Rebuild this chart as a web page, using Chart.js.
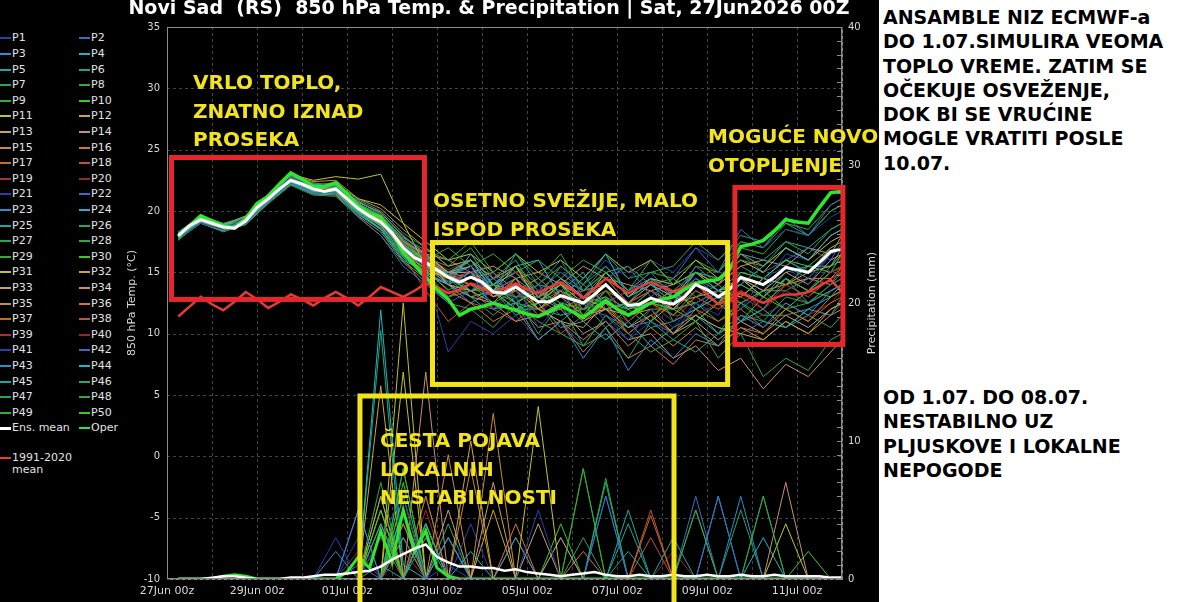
<!DOCTYPE html>
<html>
<head>
<meta charset="utf-8">
<script src="https://cdn.jsdelivr.net/npm/chart.js@4.4.1/dist/chart.umd.min.js"></script>
<style>
    html, body { margin: 0; padding: 0; background: #000; width: 1200px; height: 602px; overflow: hidden; }
    #wrap { position: relative; width: 1200px; height: 602px; }
    #chart { position: absolute; left: 100px; top: 0; }
    #legend { position: absolute; left: 0; top: 0; width: 130px; height: 602px; font: 11px "DejaVu Sans"; color: #e2e2e2; }
    .item { position: absolute; height: 14px; line-height: 14px; white-space: nowrap; }
    .item i { position: absolute; left: 0; top: 6px; width: 11px; height: 2px; }
    .item span { position: absolute; left: 12px; top: 0; }
    .note { position: absolute; color: #f2e41c; font: bold 20px "DejaVu Sans"; line-height: 28.5px; white-space: pre; }
    #side { position: absolute; left: 879px; top: 0; width: 321px; height: 602px; background: #fff; }
    .side-text { position: absolute; left: 4px; font: bold 19px "DejaVu Sans"; line-height: 24.3px; color: #000; white-space: pre; }
</style>
</head>
<body>
<div id="wrap">
    <div id="legend"></div>
    <canvas id="chart" width="778" height="602"></canvas>
    <div class="note" style="left:193px; top:68px;">VRLO TOPLO,
ZNATNO IZNAD
PROSEKA</div>
    <div class="note" style="left:433px; top:186px;">OSETNO SVEŽIJE, MALO
ISPOD PROSEKA</div>
    <div class="note" style="left:708px; top:122px;">MOGUĆE NOVO
OTOPLJENJE</div>
    <div class="note" style="left:380px; top:426px;">ČESTA POJAVA
LOKALNIH
NESTABILNOSTI</div>
    <div id="side">
        <div class="side-text" style="top:5px;">ANSAMBLE NIZ ECMWF-a
DO 1.07.SIMULIRA VEOMA
TOPLO VREME. ZATIM SE
OČEKUJE OSVEŽENJE,
DOK BI SE VRUĆINE
MOGLE VRATITI POSLE
10.07.</div>
        <div class="side-text" style="top:385px;">OD 1.07. DO 08.07.
NESTABILNO UZ
PLJUSKOVE I LOKALNE
NEPOGODE</div>
    </div>
</div>
<script>
// ---- time axes (hours after 27Jun 00z) ----
const hours6 = [6,12,18,24,30,36,42,48,54,60,66,72,78,84,90,96,102,108,114,120,
    126,132,138,144,150,156,162,168,174,180,186,192,198,204,210,216,222,228,234,240,
    246,252,258,264,270,276,282,288,294,300,306,312,318,324,330,336,342,348,354,360];
const memberHours = [6,18,30,42,54,66,78,90,102,114,126,138,150,162,174,186,198,210,222,234,
    246,258,270,282,294,306,318,330,342,354,360];
const xTickLabels = ['27Jun 00z','29Jun 00z','01Jul 00z','03Jul 00z','05Jul 00z','07Jul 00z','09Jul 00z','11Jul 00z'];

// ---- main lines (6-hourly) ----
const meanTemp = [18.0,18.8,19.3,19.0,18.7,18.6,19.2,20.3,21.0,21.8,
    22.5,22.2,21.8,21.6,21.8,21.0,20.2,19.6,19.1,18.2,
    17.0,16.2,15.8,15.2,14.6,14.2,14.6,14.2,13.4,13.3,
    13.8,13.2,12.6,12.6,13.1,12.8,12.5,13.2,14.0,13.1,
    12.3,12.4,12.9,12.6,12.4,13.0,14.0,13.6,13.0,13.6,
    14.6,14.3,14.0,14.6,15.4,15.2,15.0,15.8,16.7,16.9];
const operTemp = [17.9,18.8,19.6,19.2,18.8,18.6,19.4,20.6,21.2,22.2,
    23.1,22.6,22.0,22.0,22.3,21.4,20.4,19.8,19.5,18.2,
    16.6,15.6,14.6,13.6,12.8,11.5,12.0,12.2,12.5,12.2,
    11.9,11.6,11.4,11.8,12.3,11.8,11.3,12.0,12.7,12.0,
    11.5,12.0,12.5,12.8,13.0,13.6,14.1,14.3,14.4,15.2,
    17.1,17.3,17.6,18.4,19.3,19.1,19.0,20.3,21.5,21.6];
const climTemp = [11.4,12.2,13.0,12.4,11.9,12.6,13.4,12.8,12.1,12.6,
    13.2,12.8,12.3,12.9,13.4,12.9,12.3,13.0,13.8,13.4,
    13.0,13.5,14.1,13.8,13.3,13.6,14.1,13.7,13.3,13.7,
    14.1,13.6,13.3,13.8,14.2,13.6,12.9,13.7,14.5,13.9,
    13.3,13.8,14.2,13.8,13.4,13.8,14.2,13.2,12.4,12.8,
    13.3,12.9,12.5,12.9,13.2,13.2,13.4,13.9,14.4,13.4];
const meanRain = [0,0,0,0.1,0.2,0.2,0.1,0,0,0,
    0.1,0.1,0.2,0.3,0.3,0.4,0.5,0.6,0.9,1.4,
    1.8,2.2,2.5,1.6,1.2,0.9,0.9,0.8,0.8,0.6,
    0.7,0.5,0.4,0.3,0.2,0.3,0.4,0.5,0.3,0.2,
    0.2,0.3,0.2,0.2,0.3,0.2,0.2,0.3,0.2,0.2,
    0.3,0.2,0.2,0.3,0.2,0.2,0.2,0.2,0.1,0.1];
const operRain = [0,0,0,0,0.2,0.3,0.2,0,0,0,
    0,0,0,0,0,0.5,1.6,0.8,3.5,1.2,
    5.0,2.0,3.5,0.8,0.2,0,0,0,0,0,
    0,0,0,0,0,0,0,0,0,0,
    0,0,0,0,0,0,0,0,0,0,
    0,0,0,0,0,0,0,0,0,0];

// ---- ensemble members, 850 hPa temperature (12-hourly) ----
const t01 = [17.8,19.0,18.5,19.5,21.2,22.8,22.0,22.3,20.5,19.0,16.5, 14.8,13.0,15.5,12.0,14.0,10.5,12.5,13.0,11.0,9.5,12.0,10.5,12.5,13.5,12.0,14.5,15.5,14.0,16.5,17.0];
const t02 = [18.2,19.5,18.8,19.0,20.8,22.3,21.5,21.5,19.5,18.0,15.5, 14.0,12.5,13.5,15.0,12.5,14.0,16.0,13.0,14.5,15.5,13.0,14.5,17.0,15.0,18.5,17.0,19.5,18.0,20.5,21.0];
const t03 = [17.6,19.2,18.6,19.4,21.3,22.6,22.2,22.0,20.8,19.8,18.0, 16.5,14.0,15.0,12.0,12.5,9.5,11.0,8.0,10.5,7.0,9.5,8.0,10.0,9.0,11.5,10.5,12.5,11.5,13.5,14.0];
const t04 = [18.1,19.4,18.9,19.1,20.9,22.4,21.6,21.7,20.0,18.5,16.0, 15.0,14.0,16.5,14.0,15.5,16.0,13.0,14.5,16.5,13.0,14.0,12.5,15.0,13.5,14.0,15.5,17.0,16.0,18.0,18.5];
const t05 = [17.9,19.1,18.4,19.0,20.7,22.2,21.4,21.4,19.8,18.6,16.8, 15.5,15.0,16.0,13.5,16.5,14.0,13.5,15.0,12.0,12.5,14.5,11.0,12.0,13.0,11.0,12.0,14.5,12.5,13.5,14.0];
const t06 = [18.3,19.6,19.0,19.5,21.4,22.9,22.3,22.0,20.5,19.5,17.5, 16.0,14.5,13.0,11.5,13.0,10.0,12.5,9.0,10.0,8.0,11.0,9.5,8.5,10.0,12.5,11.0,13.0,12.5,14.0,14.5];
const t07 = [18.0,19.3,18.7,19.3,21.1,22.6,21.9,21.9,20.4,19.2,17.2, 16.2,15.5,17.0,14.5,16.0,13.0,15.5,14.0,16.5,14.5,15.0,15.5,17.5,16.0,18.0,17.5,19.0,18.0,20.0,20.5];
const t08 = [17.7,19.0,18.3,18.9,20.6,22.1,21.3,21.2,19.5,18.0,15.8, 14.2,12.5,12.0,10.5,12.5,11.0,10.0,9.0,11.5,10.0,8.5,9.5,11.0,8.0,10.0,6.5,8.0,7.0,9.5,10.0];
const t09 = [18.1,19.4,18.8,19.4,21.2,22.7,22.0,22.1,20.6,19.6,17.8, 16.8,16.0,17.5,15.0,16.5,14.5,16.5,13.5,15.0,13.5,16.0,14.0,15.0,14.5,16.0,15.5,17.5,16.5,18.5,19.0];
const t10 = [17.9,19.2,18.6,19.1,20.9,22.3,21.7,21.6,19.9,18.8,16.5, 15.0,13.0,14.0,13.5,12.0,12.5,14.0,11.5,13.5,12.5,11.0,13.5,14.0,12.5,15.0,14.5,16.0,15.5,17.0,17.5];
const t11 = [18.2,19.5,18.9,19.6,21.4,23.0,22.5,22.8,22.6,23.0,19.0, 15.5,15.0,16.0,13.5,15.5,12.5,14.0,12.5,15.0,13.0,14.5,14.0,16.0,14.5,16.0,15.0,17.0,16.0,17.5,18.0];
const t12 = [17.8,19.1,18.5,19.2,21.0,22.5,21.8,21.9,20.3,19.3,17.3, 16.0,14.0,13.5,12.5,14.5,12.0,11.0,10.5,12.5,11.5,12.0,10.0,11.5,10.5,10.0,9.5,11.0,10.0,12.0,12.5];
const t13 = [18.0,19.2,18.6,19.3,21.2,22.8,22.1,22.2,20.7,19.9,17.9, 16.5,15.0,15.5,13.0,14.0,12.5,14.5,13.0,12.0,11.5,13.0,12.0,14.0,13.0,14.5,13.5,15.0,14.0,16.0,16.5];
const t14 = [18.1,19.3,18.7,19.1,20.8,22.4,21.6,21.5,20.0,18.9,16.8, 15.5,14.0,13.0,12.5,11.0,11.5,12.0,10.0,11.0,9.5,10.0,8.0,9.0,7.0,8.0,5.5,7.5,6.5,8.5,9.5];
const t15 = [17.9,19.4,18.8,19.5,21.3,22.9,22.4,22.5,21.0,20.2,18.5, 17.0,15.5,16.0,14.5,15.5,13.0,14.0,13.0,14.0,12.5,14.0,13.0,15.0,14.0,16.5,15.5,17.0,16.0,18.0,18.5];
const t16 = [18.0,19.1,18.5,19.0,20.7,22.2,21.5,21.6,20.1,19.0,16.8, 15.2,13.5,12.5,11.0,12.0,9.5,11.0,8.5,10.5,8.0,9.0,7.5,9.5,9.0,10.5,10.0,12.0,11.0,13.0,13.5];
const t17 = [17.8,19.3,18.7,19.4,21.1,22.7,22.0,22.1,20.8,19.7,17.7, 16.4,14.8,14.0,13.0,14.5,12.0,13.5,11.0,12.5,10.0,11.5,10.0,12.0,11.0,12.0,10.5,12.0,11.0,12.5,13.0];
const t18 = [18.2,19.5,18.9,19.3,21.0,22.6,21.9,21.8,20.2,19.2,16.9, 15.8,14.5,15.0,13.0,14.0,12.5,14.0,13.0,14.5,12.5,13.5,12.0,13.5,12.5,14.5,14.0,15.5,15.0,17.0,17.5];
const t19 = [17.9,19.2,18.6,19.2,21.0,22.5,21.8,21.7,20.1,19.0,16.5, 14.5,13.0,13.5,12.0,13.5,11.5,13.5,12.0,13.5,11.0,12.5,11.0,13.0,12.0,13.0,12.0,13.5,12.5,14.0,14.5];
const t20 = [18.1,19.4,18.8,19.3,21.1,22.6,21.9,22.0,20.4,19.3,17.4, 16.3,15.2,16.0,14.5,15.0,13.5,14.0,12.5,14.0,12.5,13.5,12.5,14.0,12.5,13.5,12.0,14.0,13.0,15.0,15.5];
const t21 = [17.7,19.0,18.4,19.0,20.8,22.3,21.6,21.6,20.0,18.7,16.5, 15.0,8.5,11.0,10.0,11.5,9.5,11.0,9.0,11.5,9.5,11.0,10.0,12.5,11.5,14.5,14.0,16.5,16.0,18.0,18.5];
const t22 = [18.0,19.3,18.7,19.2,21.0,22.5,21.8,21.9,20.3,19.1,17.0, 15.5,15.0,13.5,14.5,13.0,13.5,12.0,14.0,12.5,13.5,15.0,13.0,15.5,14.0,16.5,15.0,16.0,17.0,16.0,17.5];
const t23 = [18.2,19.4,18.8,19.4,21.2,22.7,22.0,22.0,20.6,19.6,17.6, 16.3,14.6,15.5,13.5,14.5,13.0,14.5,13.5,15.5,13.5,14.5,13.0,14.5,13.0,14.5,13.5,15.5,14.5,16.5,17.0];
const t24 = [17.8,19.1,18.5,19.0,20.8,22.3,21.6,21.6,19.8,18.5,16.2, 14.8,14.0,12.5,13.5,11.5,12.5,10.5,11.0,9.5,11.0,9.0,10.5,11.5,10.0,11.0,12.0,10.5,12.0,13.0,13.5];
const t25 = [18.1,19.3,18.7,19.3,21.1,22.6,21.9,21.8,20.2,19.2,17.1, 15.9,14.8,16.0,14.0,15.0,13.0,14.5,13.0,15.0,13.0,14.0,13.0,15.0,14.5,16.5,16.0,17.5,17.0,18.5,19.0];
const t26 = [17.9,19.2,18.6,19.1,20.9,22.4,21.7,21.7,20.1,18.9,16.9, 15.6,15.0,13.0,13.5,12.0,12.0,11.0,12.5,10.5,12.0,10.5,11.0,12.0,10.0,11.5,11.0,10.5,11.5,10.5,11.5];
const t27 = [18.0,19.4,18.8,19.4,21.2,22.8,22.1,22.3,20.9,20.0,18.2, 17.0,15.5,16.0,14.0,15.0,13.0,14.0,12.0,14.0,12.0,13.0,11.5,13.5,12.5,14.0,13.0,14.5,13.5,15.0,15.5];
const t28 = [18.2,19.5,18.9,19.5,21.3,22.9,22.2,22.2,20.6,19.4,17.2, 16.0,17.0,15.5,16.5,15.0,16.0,14.5,16.0,15.0,15.5,14.0,14.5,13.0,14.0,12.5,13.5,12.0,12.5,13.5,14.0];
const t29 = [17.7,19.0,18.4,19.1,20.9,22.4,21.7,21.5,19.8,18.6,16.4, 15.1,13.6,14.0,12.5,13.5,12.0,13.5,12.5,14.0,12.0,13.5,12.5,15.5,15.0,17.5,17.0,19.0,18.5,20.5,21.0];
const t30 = [18.0,19.2,18.6,19.2,21.0,22.5,21.8,21.8,20.2,19.0,16.8, 15.5,14.5,13.5,14.0,12.5,13.5,12.5,12.0,13.0,11.0,12.5,12.0,11.0,12.5,11.0,13.0,12.0,13.5,13.0,14.0];
const t31 = [18.1,19.4,18.8,19.4,21.2,22.7,22.0,22.2,21.0,20.5,19.0, 17.5,16.0,16.5,15.0,16.5,15.0,16.0,14.5,16.5,15.0,16.0,14.0,15.0,13.5,14.5,13.0,14.5,13.5,15.0,15.5];
const t32 = [17.9,19.1,18.5,19.1,20.9,22.3,21.6,21.6,20.0,18.8,16.6, 15.2,14.5,13.5,14.0,13.5,12.0,13.0,11.5,12.0,12.5,11.0,12.5,13.0,13.5,13.0,14.5,14.0,15.0,15.5,16.5];
const t33 = [18.0,19.3,18.7,19.3,21.1,22.6,21.9,21.9,20.3,19.3,17.4, 16.4,15.0,15.0,13.0,13.5,11.5,12.5,11.0,12.0,10.5,11.5,10.0,11.0,9.5,11.0,10.0,11.5,10.5,12.0,12.5];
const t34 = [18.2,19.5,18.9,19.5,21.3,22.8,22.1,22.1,20.5,19.5,17.5, 16.5,16.0,15.0,15.5,14.5,15.0,14.0,15.5,14.5,14.0,13.5,14.0,15.0,14.0,15.5,16.0,15.5,17.0,16.5,18.0];
const t35 = [17.8,19.0,18.4,18.9,20.7,22.2,21.4,21.3,19.6,18.3,15.9, 14.5,13.0,13.5,12.0,12.5,10.5,11.0,9.5,11.0,9.0,10.5,9.0,10.5,9.0,10.5,9.5,11.0,10.0,11.5,12.0];
const t36 = [18.0,19.2,18.6,19.2,21.0,22.5,21.8,21.8,20.2,19.1,17.0, 16.0,15.0,14.5,15.0,13.5,14.5,13.0,13.5,14.0,12.5,12.5,13.5,12.0,13.0,12.5,13.5,14.0,14.5,14.5,15.5];
const t37 = [18.1,19.3,18.7,19.3,21.1,22.6,21.9,22.0,20.5,19.5,17.5, 16.0,14.0,15.0,13.5,14.0,12.0,13.5,12.5,13.5,11.5,12.5,11.5,13.0,12.0,13.5,12.5,14.0,13.0,14.5,15.0];
const t38 = [17.9,19.2,18.6,19.1,20.9,22.4,21.6,21.5,19.9,18.8,16.3, 13.5,11.0,12.5,12.0,11.0,12.5,10.0,11.5,12.0,10.0,11.5,12.5,11.0,12.5,13.5,12.0,14.0,14.5,14.0,15.5];
const t39 = [18.0,19.3,18.7,19.2,21.0,22.5,21.8,21.8,20.1,19.0,16.9, 15.6,14.3,15.0,13.5,14.5,13.0,13.5,12.0,14.0,12.5,14.0,13.0,14.0,12.5,14.0,13.0,14.5,13.5,15.0,15.5];
const t40 = [18.1,19.4,18.8,19.4,21.2,22.7,22.0,22.0,20.4,19.3,17.3, 16.1,15.0,14.0,14.5,13.0,13.5,12.0,12.5,12.0,11.0,12.5,11.5,11.5,12.5,11.0,11.5,12.5,11.5,12.5,13.5];
const t41 = [17.8,19.1,18.5,19.1,20.9,22.4,21.7,21.7,20.1,18.9,16.7, 15.4,14.0,15.0,13.5,15.0,13.5,15.0,14.0,16.0,14.5,16.0,15.0,17.0,16.0,17.5,17.0,18.5,18.0,19.5,20.0];
const t42 = [18.2,19.4,18.8,19.3,21.0,22.5,21.8,21.7,20.0,18.8,16.5, 15.0,14.0,13.0,13.5,12.0,13.0,11.5,12.0,11.5,10.5,11.0,10.0,11.5,10.5,10.0,11.0,10.5,12.0,11.5,12.5];
const t43 = [17.9,19.2,18.6,19.3,21.1,22.7,22.0,22.0,20.5,19.4,17.5, 16.2,14.8,15.5,14.0,15.0,13.0,14.0,13.0,14.5,12.5,13.5,12.5,14.5,13.5,15.0,14.5,16.0,15.0,16.5,17.0];
const t44 = [18.0,19.3,18.7,19.1,20.9,22.4,21.7,21.6,20.0,18.9,16.7, 15.3,14.5,13.5,14.0,12.5,13.5,12.0,12.5,13.0,12.0,12.5,13.5,12.0,13.5,14.0,13.0,15.0,15.5,15.5,17.0];
const t45 = [18.1,19.4,18.8,19.4,21.2,22.8,22.1,22.1,20.6,19.6,17.6, 16.4,15.0,15.0,13.5,14.0,12.5,13.5,12.5,14.0,12.0,13.5,12.5,14.0,13.0,14.5,13.0,14.5,13.5,15.5,16.0];
const t46 = [17.8,19.0,18.4,19.0,20.8,22.3,21.5,21.4,19.7,18.5,16.3, 15.0,14.0,13.5,14.5,13.0,14.0,12.0,13.0,12.5,11.5,12.5,12.0,12.5,13.5,12.0,13.5,13.5,14.5,14.0,15.0];
const t47 = [18.0,19.3,18.7,19.3,21.1,22.6,21.9,21.9,20.4,19.3,17.2, 16.0,14.5,16.0,14.5,15.5,13.5,15.0,13.5,15.0,13.0,14.5,13.5,15.0,14.0,15.5,14.5,16.0,15.0,16.5,17.0];
const t48 = [18.2,19.5,18.9,19.4,21.2,22.7,22.0,21.9,20.3,19.2,17.0, 15.7,15.0,13.5,13.5,12.5,12.0,11.5,12.0,12.5,10.5,12.0,12.0,12.5,11.0,12.5,11.5,11.5,12.0,11.5,13.0];
const t49 = [17.9,19.2,18.6,19.2,21.0,22.5,21.8,21.8,20.2,19.1,16.9, 15.6,14.2,15.0,14.0,15.5,14.0,15.5,14.0,15.5,13.5,15.0,14.5,16.0,15.0,17.0,16.5,18.5,18.0,20.0,20.5];
const t50 = [18.1,19.3,18.7,19.3,21.1,22.6,21.9,21.9,20.3,19.2,17.1, 15.8,14.5,14.0,13.5,13.0,13.0,12.0,12.5,12.5,12.0,12.5,13.0,12.5,13.5,13.0,14.5,14.0,15.5,15.0,16.5];

// ---- ensemble members, precipitation mm (12-hourly) ----
const r01 = [0,0,0,0,0,0,0,0,0,3, 6,0,1,0,0,0,5,0,0,0, 0,0,0,0,0,0,0,0,0,0,0];
const r02 = [0,0,0,0,0,0,0,0,1,0, 0,0,0,0,0,0,0,0,0,6, 0,0,0,0,6,0,0,0,0,0,0];
const r03 = [0,0,0,0,0,0,0,0,5,0, 0,0,3,0,0,0,0,0,0,0, 0,0,0,0,0,6,0,0,0,0,0];
const r04 = [0,0,0,0,0,0,0,0,0,19.5, 1,0,0,2,0,0,0,0,0,0, 0,0,0,0,0,0,0,0,0,0,0];
const r05 = [0,0,0,0,0,0,0,0,0,1, 0,4,0,0,0,0,0,0,0,0, 0,0,3,0,0,0,0,0,0,0,0];
const r06 = [0,0,0,0,0,0,0,0,0,0, 3,0,0,0,0,0,0,0,0,0, 2,0,0,0,0,0,0,0,0,0,0];
const r07 = [0,0,0,0,0,0,0,0,0,0, 8,0,0,0,0,0,0,0,0,0, 0,0,0,0,0,0,6,0,0,0,0];
const r08 = [0,0,0,0,0,0,0,0,0,4, 0,0,0,0,0,0,0,0,0,0, 0,0,0,5,0,0,0,0,0,0,0];
const r09 = [0,0,0,0,0,0,0,0,0,0, 6,0,0,0,0,0,0,0,8,0, 0,0,0,0,0,0,0,0,0,0,0];
const r10 = [0,0,0,0,0,0,0,0,0,5, 0,4,0,0,0,0,0,0,0,0, 0,0,0,0,0,0,0,0,0,0,0];
const r11 = [0,0,0,0,0,0,0,0,0,0, 20,0,0,0,0,0,12.5,0,0,0, 0,0,0,0,0,0,0,0,0,0,0];
const r12 = [0,0,0,0,0,0,0,0,0,14, 0,0,0,10,0,0,0,0,0,0, 0,0,0,0,0,0,0,0,0,0,0];
const r13 = [0,0,0,0,0,0,0,0,0,0, 0,0,0,0,7,0,0,3,0,0, 0,0,0,0,0,0,0,0,0,0,0];
const r14 = [0,0,0,0,0,0,0,0,0,0, 0,15,0,0,0,0,0,0,0,0, 0,0,0,0,0,0,0,7,0,0,0];
const r15 = [0,0,0,0,0,0,0,0,0,0, 0,0,9,0,12,0,0,0,0,0, 0,0,0,0,0,0,0,0,0,0,0];
const r16 = [0,0,0,0,0,0,0,0,0,0, 4,0,0,0,0,4,0,0,0,0, 0,0,0,0,0,0,0,0,0,0,0];
const r17 = [0,0,0,0,0,0,0,0,0,0, 0,6,0,0,0,0,0,0,0,0, 0,4.6,0,0,0,0,0,0,0,0,0];
const r18 = [0,0,0,0,0,0,0,0,0,3, 0,0,0,0,0,0,0,0,0,0, 0,5,0,0,0,0,0,0,0,0,0];
const r19 = [0,0,0,0,0,0,0,0,0,0, 2,0,0,0,0,0,0,0,0,0, 0,0,0,0,0,0,0,0,0,0,0];
const r20 = [0,0,0,0,0,0,0,0,2,0, 0,0,0,0,0,0,0,0,0,0, 0,0,0,0,0,0,0,0,0,0,0];
const r21 = [0,0,0,0,0,0,0,3,0,0, 0,0,0,4,0,0,0,0,0,0, 0,0,0,0,0,0,0,0,0,0,0];
const r22 = [0,0,0,0,0,0,0,0,5,0, 0,0,0,0,0,0,0,0,0,6, 0,0,0,0,0,0,0,0,0,0,0];
const r23 = [0,0,0,0,0,0,0,0,0,4, 0,0,0,0,0,3,0,0,0,0, 0,0,0,0,0,0,0,0,0,0,0];
const r24 = [0,0,0,0,0,0,0,0,0,0, 5,0,0,0,0,0,0,0,0,0, 0,0,0,0,6,0,0,0,0,0,0];
const r25 = [0,0,0,0,0,0,0,0,0,0, 0,0,3,0,0,0,0,0,0,0, 4,0,0,0,0,0,0,0,0,0,0];
const r26 = [0,0,0,0,0,0,0,0,0,18, 0,0,0,0,0,0,0,0,0,7.3, 0,0,0,0,0,0,0,0,0,0,0];
const r27 = [0,0,0,0,0,0,0,0,0,0, 0,6,0,0,0,0,0,0,3,0, 0,0,0,0,0,0,0,0,0,0,0];
const r28 = [0,0,0,0,0,0,0,0,0,0, 5,0,0,0,0,0,0,0,0,0, 0,0,0,5,0,0,0,0,0,0,0];
const r29 = [0,0,0,0,0,0,0,0,0,7, 0,0,0,0,0,0,0,0,0,0, 0,0,0,0,0,0,6,0,0,0,0];
const r30 = [0,0,0,0,0,0,0,0,0,0, 8,0,0,0,0,0,0,4,0,0, 0,0,0,0,0,0,0,0,0,0,0];
const r31 = [0,0,0,0,0,0,0,0,0,0, 15,0,0,0,0,0,0,0,0,0, 0,0,0,0,0,0,0,4,0,0,0];
const r32 = [0,0,0,0,0,0,0,0,0,6, 0,0,0,0,5,0,0,0,0,0, 0,0,0,0,0,0,0,0,0,0,0];
const r33 = [0,0,0,0,0,0,0,0,0,0, 0,0,5,0,0,0,4,0,0,0, 0,0,0,0,0,0,0,0,0,0,0];
const r34 = [0,0,0,0,0,0,0,0,0,0, 0,4,0,0,0,0,0,0,0,0, 0,0,0,0,0,0,0,0,0,0,0];
const r35 = [0,0,0,0,0,0,0,0,0,0, 0,0,0,8,0,3,0,0,0,0, 0,0,0,0,0,0,0,0,0,0,0];
const r36 = [0,0,0,0,0,0,0,0,0,0, 3,0,0,0,0,0,0,0,2,0, 0,0,0,0,0,0,0,0,0,0,0];
const r37 = [0,0,0,0,0,0,0,0,0,5, 0,0,0,0,0,0,0,0,0,0, 0,0,0,0,0,0,0,0,0,0,0];
const r38 = [0,0,0,0,0,0,0,0,0,0, 0,0,3,0,0,0,0,0,0,0, 0,3,0,0,0,0,0,0,0,0,0];
const r39 = [0,0,0,0,0,0,0,0,0,0, 4,0,0,0,0,0,0,0,0,0, 0,0,0,0,0,0,0,0,0,0,0];
const r40 = [0,0,0,0,0,0,0,0,0,0, 0,5,0,0,0,0,0,0,0,0, 0,0,2,0,0,0,0,0,0,0,0];
const r41 = [0,0,0,0,0,0,0,0,3,0, 0,0,0,0,0,0,0,3,0,0, 0,0,0,0,0,0,0,0,0,0,0];
const r42 = [0,0,0,0,0,0,0,0,0,4, 0,0,0,0,0,0,0,0,0,0, 0,0,0,6,0,0,0,0,0,0,0];
const r43 = [0,0,0,0,0,0,0,2,0,0, 5,0,0,0,0,0,0,0,0,0, 0,0,0,0,0,0,0,0,0,0,0];
const r44 = [0,0,0,0,0,0,0,0,0,0, 0,3,0,0,0,0,0,0,0,0, 0,0,0,0,0,0,3,0,0,0,0];
const r45 = [0,0,0,0,0,0,0,0,0,0, 4,0,0,0,0,0,0,0,0,0, 5,0,0,0,0,0,0,0,0,0,0];
const r46 = [0,0,0,0,0,0,0,0,0,6, 0,0,4,0,0,0,0,0,0,0, 0,0,0,0,0,0,0,0,0,0,0];
const r47 = [0,0,0,0,0,0,0,0,0,0, 6,0,0,0,0,0,0,0,0,0, 0,0,0,0,0,5,0,0,0,0,0];
const r48 = [0,0,0,0,0,0,0,0,0,0, 0,4,0,0,0,0,0,0,8,0, 0,0,0,0,0,0,0,0,0,0,0];
const r49 = [0,0,0,0,0,0,0,0,0,5, 0,0,0,0,0,0,0,0,0,7, 0,0,0,0,0,0,0,0,0,0,0];
const r50 = [0,0,0,0,0,0,0,0,0,0, 7,0,0,0,0,0,0,0,0,0, 0,0,0,0,0,0,0,0,2,0,0];

const memberTemps = [t01,t02,t03,t04,t05,t06,t07,t08,t09,t10,t11,t12,t13,t14,t15,t16,t17,t18,t19,t20,
    t21,t22,t23,t24,t25,t26,t27,t28,t29,t30,t31,t32,t33,t34,t35,t36,t37,t38,t39,t40,
    t41,t42,t43,t44,t45,t46,t47,t48,t49,t50];
const memberRains = [r01,r02,r03,r04,r05,r06,r07,r08,r09,r10,r11,r12,r13,r14,r15,r16,r17,r18,r19,r20,
    r21,r22,r23,r24,r25,r26,r27,r28,r29,r30,r31,r32,r33,r34,r35,r36,r37,r38,r39,r40,
    r41,r42,r43,r44,r45,r46,r47,r48,r49,r50];

// member colour cycle (repeats every 20 members)
const memberColors = ['#2b3fa8','#3a6bc8','#2a8fd0','#20b4c4','#1aa8a0','#22a878','#2aa45a','#34a848','#2fb02f','#3ccc1e',
    '#c4c428','#c8aa30','#c8a070','#c89070','#c88a40','#d07a30','#cc6a20','#c05040','#a83030','#982828'];
const MEAN_COLOR = '#ffffff';
const OPER_COLOR = '#2ee62e';
const CLIM_COLOR = '#e83a3a';

// annotation frames, in data units (hours, °C)
const frames = [
    { h0: 2.4, h1: 137.3, t0: 24.36, t1: 12.79, color: '#e5272b' },
    { h0: 141.6, h1: 299.0, t0: 17.43, t1: 5.86, color: '#f2e41c' },
    { h0: 302.9, h1: 360.5, t0: 21.92, t1: 9.12, color: '#e5272b' },
    { h0: 102.9, h1: 270.4, t0: 4.92, t1: -13.0, color: '#f2e41c' }
];

function pts(hours, vals) {
    return hours.map((h, i) => ({ x: h, y: vals[i] }));
}

// legend (two columns, row-major like the original)
const legendEl = document.getElementById('legend');
function addLegendItem(label, color, col, rowCenter, thick) {
    const d = document.createElement('div');
    d.className = 'item';
    d.style.left = (col === 0 ? 0 : 79) + 'px';
    d.style.top = (rowCenter - 7) + 'px';
    d.innerHTML = '<i style="background:' + color + ';height:' + (thick ? 3 : 2) + 'px"></i><span>' + label + '</span>';
    legendEl.appendChild(d);
}
for (let i = 0; i < 50; i++) {
    const row = Math.floor(i / 2);
    addLegendItem('P' + (i + 1), memberColors[i % 20], i % 2, 38.3 + row * 15.6, false);
}
addLegendItem('Ens. mean', MEAN_COLOR, 0, 38.3 + 25 * 15.6, true);
addLegendItem('Oper', OPER_COLOR, 1, 38.3 + 25 * 15.6, false);
addLegendItem('1991-2020<br>mean', CLIM_COLOR, 0, 458, false);
legendEl.lastChild.querySelector('span').style.lineHeight = '12px';
legendEl.lastChild.querySelector('span').style.top = '1px';

// datasets
const datasets = [
    { label: 'Ens. mean', data: pts(hours6, meanTemp), borderColor: MEAN_COLOR, borderWidth: 3, yAxisID: 'y', order: 0 },
    { label: 'Oper', data: pts(hours6, operTemp), borderColor: OPER_COLOR, borderWidth: 3.5, yAxisID: 'y', order: 1 },
    { label: '1991-2020 mean', data: pts(hours6, climTemp), borderColor: CLIM_COLOR, borderWidth: 2.5, yAxisID: 'y', order: 2 },
    { label: 'Ens. mean precip', data: pts(hours6, meanRain), borderColor: MEAN_COLOR, borderWidth: 2.5, yAxisID: 'y1', order: 0 },
    { label: 'Oper precip', data: pts(hours6, operRain), borderColor: OPER_COLOR, borderWidth: 3, yAxisID: 'y1', order: 1 }
];
memberTemps.forEach((vals, i) => {
    datasets.push({ label: 'P' + (i + 1), data: pts(memberHours, vals), borderColor: memberColors[i % 20], borderWidth: 1, yAxisID: 'y', order: 5 });
});
memberRains.forEach((vals, i) => {
    datasets.push({ label: 'P' + (i + 1) + ' precip', data: pts(memberHours, vals), borderColor: memberColors[i % 20], borderWidth: 1, yAxisID: 'y1', order: 6 });
});

// dashed background grid, drawn under the data lines
const gridPlugin = {
    id: 'dashGrid',
    beforeDatasetsDraw(chart) {
        const { ctx, chartArea: a, scales: { x, y } } = chart;
        ctx.save();
        ctx.strokeStyle = '#444444';
        ctx.lineWidth = 1;
        ctx.setLineDash([3, 3]);
        x.ticks.forEach(t => {
            const px = Math.round(x.getPixelForValue(t.value)) + 0.5;
            ctx.beginPath();
            ctx.moveTo(px, a.top);
            ctx.lineTo(px, a.bottom);
            ctx.stroke();
        });
        y.ticks.forEach(t => {
            const py = Math.round(y.getPixelForValue(t.value)) + 0.5;
            ctx.beginPath();
            ctx.moveTo(a.left, py);
            ctx.lineTo(a.right, py);
            ctx.stroke();
        });
        ctx.restore();
    }
};

const overlayPlugin = {
    id: 'overlay',
    afterDraw(chart) {
        const { ctx, chartArea: a, scales: { x, y, y1 } } = chart;
        ctx.save();
        // plot frame
        ctx.strokeStyle = '#8c8c8c';
        ctx.lineWidth = 1;
        ctx.strokeRect(a.left + 0.5, a.top + 0.5, a.right - a.left - 1, a.bottom - a.top - 1);
        // inward ticks on the precipitation axis
        y1.ticks.forEach(t => {
            const py = Math.round(y1.getPixelForValue(t.value)) + 0.5;
            ctx.beginPath();
            ctx.moveTo(a.right - 5, py);
            ctx.lineTo(a.right, py);
            ctx.stroke();
        });
        // right axis title, reading bottom to top
        ctx.fillStyle = '#d8d8d8';
        ctx.font = '11px "DejaVu Sans"';
        ctx.textAlign = 'center';
        ctx.textBaseline = 'middle';
        ctx.translate(a.right + 30, (a.top + a.bottom) / 2);
        ctx.rotate(-Math.PI / 2);
        ctx.fillText('Precipitation (mm)', 0, 0);
        ctx.restore();

        // highlighted frames
        ctx.save();
        ctx.lineWidth = 5;
        frames.forEach(f => {
            const px0 = x.getPixelForValue(f.h0), px1 = x.getPixelForValue(f.h1);
            const py0 = y.getPixelForValue(f.t0), py1 = y.getPixelForValue(f.t1);
            ctx.strokeStyle = f.color;
            ctx.strokeRect(px0, py0, px1 - px0, py1 - py0);
        });
        ctx.restore();
    }
};

Chart.defaults.font.family = '"DejaVu Sans"';

new Chart(document.getElementById('chart').getContext('2d'), {
    type: 'line',
    data: { datasets },
    options: {
        responsive: false,
        animation: false,
        events: [],
        elements: { point: { radius: 0 }, line: { tension: 0 } },
        layout: { padding: 0 },
        plugins: {
            legend: { display: false },
            tooltip: { enabled: false },
            title: {
                display: true,
                text: 'Novi Sad  (RS)  850 hPa Temp. & Precipitation | Sat, 27Jun2026 00Z',
                color: '#ffffff',
                font: { size: 19, weight: 'bold', lineHeight: 1 },
                padding: { top: 0, bottom: 8 }
            }
        },
        scales: {
            x: {
                type: 'linear',
                min: 0,
                max: 360,
                afterFit: s => { s.height = 23; },
                ticks: {
                    stepSize: 24,
                    autoSkip: false,
                    maxRotation: 0,
                    color: '#d8d8d8',
                    font: { size: 11 },
                    padding: 6,
                    callback: v => (v % 48 === 0 ? (xTickLabels[v / 48] || '') : '')
                },
                grid: { display: false, drawTicks: false },
                border: { color: '#8c8c8c' }
            },
            y: {
                position: 'left',
                min: -10,
                max: 35,
                afterFit: s => { s.width = 67; },
                ticks: { stepSize: 5, color: '#d8d8d8', font: { size: 10 }, padding: 7 },
                grid: { display: false, drawTicks: false },
                border: { color: '#8c8c8c' },
                title: { display: true, text: '850 hPa Temp. (°C)', color: '#d8d8d8', font: { size: 11 }, padding: { top: 26, bottom: 0 } }
            },
            y1: {
                position: 'right',
                min: 0,
                max: 40,
                afterFit: s => { s.width = 36; },
                ticks: {
                    stepSize: 1,
                    autoSkip: false,
                    color: '#d8d8d8',
                    font: { size: 10 },
                    padding: 6,
                    callback: v => (v % 10 === 0 ? v : '')
                },
                grid: { display: false, drawTicks: false },
                border: { color: '#8c8c8c' }
            }
        }
    },
    plugins: [gridPlugin, overlayPlugin]
});
</script>
</body>
</html>
